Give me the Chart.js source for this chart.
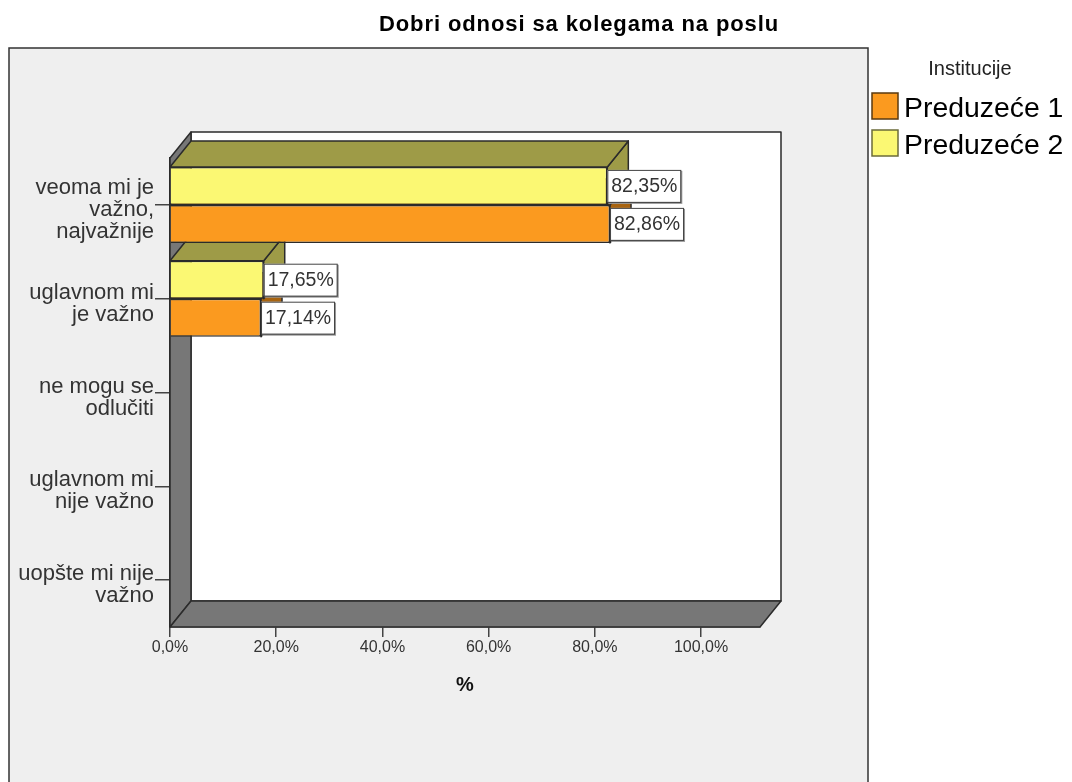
<!DOCTYPE html>
<html>
<head>
<meta charset="utf-8">
<style>html,body{margin:0;padding:0;background:#fff;overflow:hidden}canvas{display:block}</style>
<script src="https://cdn.jsdelivr.net/npm/chart.js@4"></script>
</head>
<body>
<canvas id="c" width="1072" height="782"></canvas>
<script>
const chartTitle = "Dobri odnosi sa kolegama na poslu";
const legendTitle = "Institucije";
const axisTitle = "%";
const categories = [
  ["veoma mi je", "važno,", "najvažnije"],
  ["uglavnom mi", "je važno"],
  ["ne mogu se", "odlučiti"],
  ["uglavnom mi", "nije važno"],
  ["uopšte mi nije", "važno"]
];
const preduzece1 = [82.86, 17.14, 0, 0, 0];
const preduzece2 = [82.35, 17.65, 0, 0, 0];
const xMax = 111.1;

const FONT = '"Liberation Sans", Arial, sans-serif';
const DX = 21, DY = 26;
const BG = '#efefef', EDGE = '#2b2b2b', WALL = '#777777';
const faceColors = { 0: {top:'#a86410', side:'#a86410'}, 1: {top:'#9e9b47', side:'#9e9b47'} };

function poly(ctx, pts, fill, stroke, lw) {
  ctx.beginPath();
  pts.forEach((p, i) => i ? ctx.lineTo(p[0], p[1]) : ctx.moveTo(p[0], p[1]));
  ctx.closePath();
  ctx.fillStyle = fill; ctx.fill();
  ctx.strokeStyle = stroke; ctx.lineWidth = lw; ctx.stroke();
}
const pct = v => v.toFixed(2).replace('.', ',') + '%';

const scene = {
  id: 'scene',
  beforeDraw(chart) {
    const ctx = chart.ctx;
    ctx.save();
    ctx.fillStyle = '#ffffff'; ctx.fillRect(0, 0, 1072, 782);
    ctx.fillStyle = BG; ctx.fillRect(9, 48, 859, 760);
    ctx.strokeStyle = '#333'; ctx.lineWidth = 1.5; ctx.strokeRect(9, 48, 859, 760);
    ctx.fillStyle = '#000'; ctx.font = 'bold 22px ' + FONT;
    ctx.letterSpacing = '0.9px';
    ctx.textAlign = 'center'; ctx.textBaseline = 'middle';
    ctx.fillText(chartTitle, 579, 25);
    ctx.letterSpacing = '0px';
    // legend
    ctx.fillStyle = '#222'; ctx.font = '20px ' + FONT;
    ctx.fillText(legendTitle, 970, 69);
    ctx.textAlign = 'left';
    chart.data.datasets.forEach((d, i) => {
      const y = 93 + i * 37;
      ctx.fillStyle = d.backgroundColor; ctx.fillRect(872, y, 26, 26);
      ctx.strokeStyle = i ? '#6b6b3a' : '#5a3a10'; ctx.lineWidth = 1.5; ctx.strokeRect(872, y, 26, 26);
      ctx.fillStyle = '#000'; ctx.font = '28.4px ' + FONT;
      ctx.fillText(d.label, 904, y + 16);
    });
    ctx.restore();
  },
  beforeDatasetsDraw(chart) {
    const ctx = chart.ctx, a = chart.chartArea;
    ctx.save();
    ctx.lineJoin = 'round';
    // walls
    poly(ctx, [[a.left+DX,a.top-DY],[a.right+DX,a.top-DY],[a.right+DX,a.bottom-DY],[a.left+DX,a.bottom-DY]], '#fff', EDGE, 1.5);
    poly(ctx, [[a.left,a.top],[a.left+DX,a.top-DY],[a.left+DX,a.bottom-DY],[a.left,a.bottom]], WALL, EDGE, 1.5);
    poly(ctx, [[a.left,a.bottom],[a.left+DX,a.bottom-DY],[a.right+DX,a.bottom-DY],[a.right,a.bottom]], WALL, EDGE, 1.5);
    // bar top and side faces, lower categories first, lower series first
    for (let c = categories.length - 1; c >= 0; c--) {
      for (const ds of [0, 1]) {
        const el = chart.getDatasetMeta(ds).data[c];
        if (!chart.data.datasets[ds].data[c]) continue;
        const h = el.height / 2, x0 = a.left, x1 = el.x, t = el.y - h, b = el.y + h;
        const col = faceColors[ds];
        poly(ctx, [[x1,t],[x1+DX,t-DY],[x1+DX,b-DY],[x1,b]], col.side, EDGE, 1.5);
        poly(ctx, [[x0,t],[x0+DX,t-DY],[x1+DX,t-DY],[x1,t]], col.top, EDGE, 1.5);
      }
    }
    ctx.restore();
  },
  afterDatasetsDraw(chart) {
    const ctx = chart.ctx;
    ctx.save();
    ctx.font = '19.5px ' + FONT; ctx.textAlign = 'center'; ctx.textBaseline = 'middle';
    chart.data.datasets.forEach((d, ds) => {
      chart.getDatasetMeta(ds).data.forEach((el, c) => {
        if (!d.data[c]) return;
        const w = 73, h = 32, x = el.x, y = el.y - h / 2;
        ctx.fillStyle = '#999'; ctx.fillRect(x + 1, y + 1, w + 1, h + 1);
        ctx.fillStyle = '#fff'; ctx.fillRect(x, y, w, h);
        ctx.strokeStyle = '#444'; ctx.lineWidth = 1; ctx.strokeRect(x + .5, y + .5, w, h);
        ctx.fillStyle = '#333'; ctx.fillText(pct(d.data[c]), x + w / 2 + .5, y + h / 2 + 1);
      });
    });
    ctx.restore();
  }
};

new Chart(document.getElementById('c'), {
  type: 'bar',
  data: {
    labels: categories,
    datasets: [
      { label: 'Preduzeće 1', data: preduzece1, backgroundColor: '#fb9a1f', borderColor: EDGE, borderWidth: 1.5, order: 2, categoryPercentage: 0.81, barPercentage: 1 },
      { label: 'Preduzeće 2', data: preduzece2, backgroundColor: '#fbf873', borderColor: EDGE, borderWidth: 1.5, order: 1, categoryPercentage: 0.81, barPercentage: 1 }
    ]
  },
  options: {
    indexAxis: 'y',
    responsive: false,
    animation: false,
    layout: { padding: { left: 0, top: 158, right: 312, bottom: 85 } },
    plugins: { legend: { display: false }, title: { display: false }, tooltip: { enabled: false } },
    scales: {
      x: {
        type: 'linear', min: 0, max: xMax,
        afterFit(s) { s.height = 70; },
        border: { color: EDGE, width: 1.5 },
        grid: { drawOnChartArea: false, drawTicks: true, tickLength: 10, color: '#444', lineWidth: 1.5 },
        ticks: { stepSize: 20, includeBounds: false, maxRotation: 0, padding: 1, color: '#333',
                 font: { family: FONT, size: 16 },
                 callback: v => v.toFixed(1).replace('.', ',') + '%' },
        title: { display: true, text: axisTitle, color: '#111', font: { family: FONT, size: 20, weight: 'bold' }, padding: 0 }
      },
      y: {
        afterFit(s) { s.width = 170; },
        border: { color: EDGE, width: 1.5 },
        grid: { offset: false, drawOnChartArea: false, drawTicks: true, tickLength: 15, color: '#444', lineWidth: 1.5 },
        ticks: { padding: 1, labelOffset: 5, color: '#333', autoSkip: false, maxRotation: 0,
                 font: { family: FONT, size: 22, lineHeight: 1 } }
      }
    }
  },
  plugins: [scene]
});
</script>
</body>
</html>
